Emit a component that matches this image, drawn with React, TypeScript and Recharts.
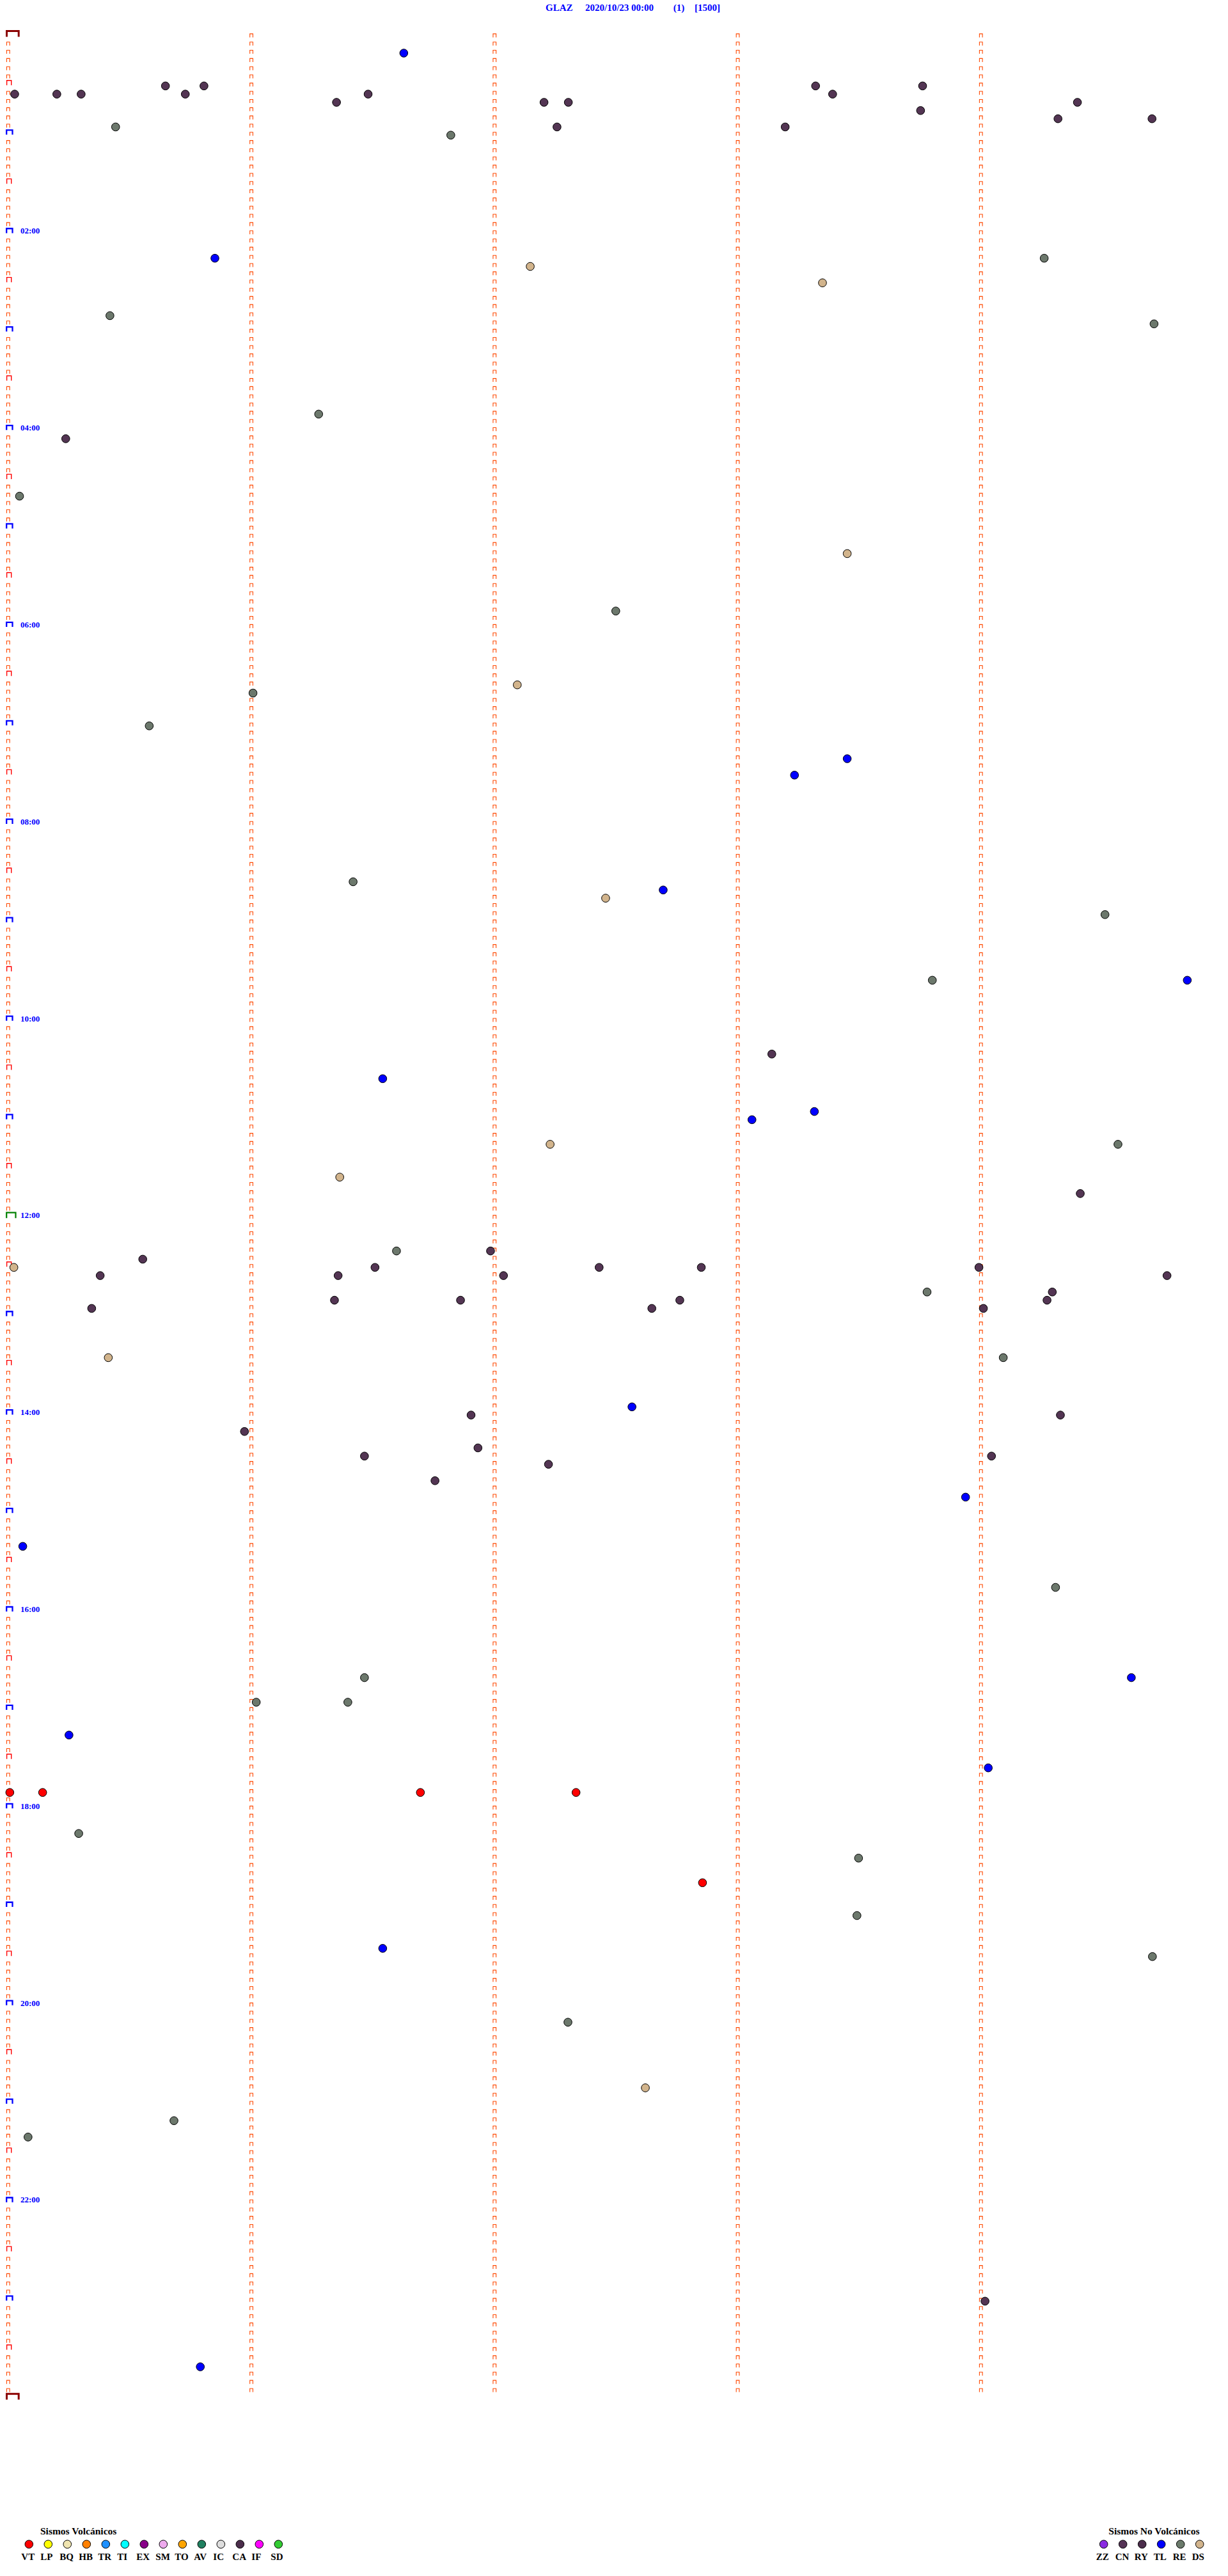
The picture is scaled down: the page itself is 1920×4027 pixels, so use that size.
import React from 'react';
import { ScatterChart, Scatter, XAxis, YAxis } from 'recharts';

// ---- data ----
// x: seconds within the 5-minute row (0..300), columns every minute
// y: minute of the day (0..1440)
const COLUMN_SECONDS = [0, 60, 120, 180, 240];
const DAY_MINUTES = 1440;
const TICK_STEP = 5;
const HOUR_LABELS = ['02:00', '04:00', '06:00', '08:00', '10:00', '12:00', '14:00', '16:00', '18:00', '20:00', '22:00'];

type Ev = [number, number];

const CA_EVENTS: Ev[] = [
  [1.6, 38.5], [12.0, 38.5], [18.0, 38.5], [38.8, 33.5], [43.7, 38.5], [48.3, 33.5],
  [81.0, 43.5], [88.8, 38.5], [132.2, 43.5], [138.2, 43.5], [135.4, 58.5],
  [199.2, 33.5], [203.4, 38.5], [225.6, 33.5], [225.1, 48.5], [191.7, 58.5],
  [263.8, 43.5], [259.0, 53.5], [282.2, 53.5],
  [14.2, 248.5], [188.4, 623.5], [264.5, 708.5],
  [33.2, 748.5], [22.7, 758.5], [20.6, 778.5], [119.0, 743.5], [90.5, 753.5], [81.4, 758.5],
  [122.2, 758.5], [80.5, 773.5], [111.6, 773.5], [145.8, 753.5], [171.0, 753.5], [165.7, 773.5],
  [158.8, 778.5], [239.5, 753.5], [240.6, 778.5], [257.6, 768.5], [256.3, 773.5], [285.9, 758.5],
  [114.2, 843.5], [259.6, 843.5], [58.3, 853.5], [87.9, 868.5], [115.9, 863.5], [133.3, 873.5],
  [242.6, 868.5], [105.3, 883.5], [241.0, 1383.5],
];

const RE_EVENTS: Ev[] = [
  [26.5, 58.5], [109.2, 63.5], [255.6, 138.5], [25.1, 173.5], [282.7, 178.5], [76.6, 233.5],
  [2.8, 283.5], [149.9, 353.5], [60.4, 403.5], [34.8, 423.5], [85.1, 518.5], [270.6, 538.5],
  [228.0, 578.5], [273.8, 678.5], [95.8, 743.5], [226.7, 768.5], [245.5, 808.5], [258.4, 948.5],
  [87.9, 1003.5], [61.2, 1018.5], [83.8, 1018.5], [17.4, 1098.5], [209.8, 1113.5], [209.4, 1148.5],
  [282.3, 1173.5], [138.1, 1213.5], [4.9, 1283.5], [40.9, 1273.5],
];

const TL_EVENTS: Ev[] = [
  [97.6, 13.5], [51.0, 138.5], [207.0, 443.5], [194.0, 453.5], [161.6, 523.5], [290.9, 578.5],
  [92.4, 638.5], [183.5, 663.5], [198.9, 658.5], [153.9, 838.5], [236.2, 893.5], [3.6, 923.5],
  [277.1, 1003.5], [15.0, 1038.5], [241.8, 1058.5], [92.4, 1168.5], [47.4, 1423.5],
];

const DS_EVENTS: Ev[] = [
  [128.8, 143.5], [200.9, 153.5], [207.0, 318.5], [125.6, 398.5], [147.4, 528.5],
  [133.7, 678.5], [81.8, 698.5], [1.4, 753.5], [24.7, 808.5], [157.2, 1253.5],
];

const VT_EVENTS: Ev[] = [
  [0.4, 1073.5], [8.5, 1073.5], [101.7, 1073.5], [140.1, 1073.5], [171.3, 1128.5],
];

const VOLC_LEGEND = [
  { code: 'VT', color: '#ff0000' }, { code: 'LP', color: '#ffff00' }, { code: 'BQ', color: '#efe4b0' },
  { code: 'HB', color: '#ff8000' }, { code: 'TR', color: '#1e90ff' }, { code: 'TI', color: '#00ffff' },
  { code: 'EX', color: '#880088' }, { code: 'SM', color: '#eeaaee' }, { code: 'TO', color: '#ffa500' },
  { code: 'AV', color: '#208060' }, { code: 'IC', color: '#dddddd' }, { code: 'CA', color: '#4b2d4b' },
  { code: 'IF', color: '#ff00ff' }, { code: 'SD', color: '#33cc33' },
];
const NOVOLC_LEGEND = [
  { code: 'ZZ', color: '#8a2be2' }, { code: 'CN', color: '#553355' }, { code: 'RY', color: '#4b2d4b' },
  { code: 'TL', color: '#0000ff' }, { code: 'RE', color: '#6b7a6b' }, { code: 'DS', color: '#d2b48c' },
];

const COLORS = { CA: '#533553', RE: '#6c786c', TL: '#0000ff', DS: '#d2b48c', VT: '#ff0000' };

// ---- layout ----
const W = 1920;
const H = 4027;
const MARGIN = { top: 48.4, right: 6, bottom: 284.7, left: 12.8 };
const FONT = "'Liberation Serif', 'Times New Roman', serif";

const toPts = (arr: Ev[]) => arr.map(([s, m]) => ({ s, m }));

const tickPoints: any[] = [];
COLUMN_SECONDS.forEach((s, ci) => {
  for (let m = 0; m <= DAY_MINUTES; m += TICK_STEP) {
    let kind = 'small';
    let label: string | null = null;
    if (ci === 0) {
      if (m === 0 || m === DAY_MINUTES) kind = 'day';
      else if (m === 720) kind = 'noon';
      else if (m % 60 === 0) kind = 'hour';
      else if (m % 30 === 0) kind = 'half';
      if (m % 120 === 0 && m > 0 && m < DAY_MINUTES) label = HOUR_LABELS[m / 120 - 1];
    } else if (m === DAY_MINUTES) {
      continue;
    }
    tickPoints.push({ s, m, kind, label });
  }
});

const TickShape = (props: any) => {
  const { cx, cy, payload } = props;
  const k = payload.kind;
  let el: any;
  if (k === 'small') {
    el = <path d={`M${cx - 2.35},${cy + 10} V${cy + 4.5} H${cx + 2.35} V${cy + 10}`} stroke="#ff4800" strokeWidth={1.1} fill="none" />;
  } else if (k === 'half') {
    el = <path d={`M${cx - 2.2},${cy + 8} V${cy + 0.4} H${cx + 4.9} V${cy + 8}`} stroke="#ff0000" strokeWidth={1.4} fill="none" />;
  } else if (k === 'hour') {
    el = <path d={`M${cx - 2.6},${cy + 8.2} V${cy + 1} H${cx + 6.7} V${cy + 8.2}`} stroke="#0000ff" strokeWidth={2.3} fill="none" />;
  } else if (k === 'noon') {
    el = <path d={`M${cx - 2.6},${cy + 9} V${cy + 0.3} H${cx + 11.7} V${cy + 9}`} stroke="#008000" strokeWidth={2.2} fill="none" />;
  } else {
    el = <path d={`M${cx - 2.3},${cy + 9} V${cy + 0} H${cx + 16.4} V${cy + 9}`} stroke="#8b0000" strokeWidth={3} fill="none" />;
  }
  return (
    <g>
      {el}
      {payload.label ? (
        <text x={cx + 19.2} y={cy + 9} fontFamily={FONT} fontWeight="bold" fontSize={13} fill="#0000ff">
          {payload.label}
        </text>
      ) : null}
    </g>
  );
};

const dotShape = (color: string) => (props: any) => (
  <circle cx={props.cx} cy={props.cy} r={6.3} fill={color} stroke="#000" strokeWidth={1} />
);

const Legend = ({ x0, title, titleX, items }: { x0: number; title: string; titleX: number; items: { code: string; color: string }[] }) => (
  <g>
    <text x={titleX} y={3962} fontFamily={FONT} fontWeight="bold" fontSize={15.5} fill="#000">{title}</text>
    {items.map((it, i) => (
      <g key={it.code}>
        <circle cx={x0 + 30 * i} cy={3977.3} r={6.3} fill={it.color} stroke="#000" strokeWidth={1} />
        <text x={x0 + 30 * i - 12} y={4001.5} fontFamily={FONT} fontWeight="bold" fontSize={15} fill="#000">{it.code}</text>
      </g>
    ))}
  </g>
);

export default function App() {
  return (
    <div style={{ position: 'absolute', left: 0, top: 0, width: W, height: H, background: '#fff', overflow: 'hidden' }}>
      <ScatterChart width={W} height={H} margin={MARGIN}>
        <XAxis type="number" dataKey="s" domain={[0, 300]} hide />
        <YAxis type="number" dataKey="m" domain={[0, DAY_MINUTES]} reversed hide />
        <Scatter data={tickPoints} shape={TickShape} isAnimationActive={false} />
        <Scatter data={toPts(RE_EVENTS)} shape={dotShape(COLORS.RE)} isAnimationActive={false} />
        <Scatter data={toPts(CA_EVENTS)} shape={dotShape(COLORS.CA)} isAnimationActive={false} />
        <Scatter data={toPts(DS_EVENTS)} shape={dotShape(COLORS.DS)} isAnimationActive={false} />
        <Scatter data={toPts(TL_EVENTS)} shape={dotShape(COLORS.TL)} isAnimationActive={false} />
        <Scatter data={toPts(VT_EVENTS)} shape={dotShape(COLORS.VT)} isAnimationActive={false} />
      </ScatterChart>
      <svg width={W} height={H} style={{ position: 'absolute', left: 0, top: 0, pointerEvents: 'none' }}>
        <g fontFamily={FONT} fontWeight="bold" fontSize={15} fill="#0000ff">
          <text x={853} y={17.3}>GLAZ</text>
          <text x={915} y={17.3}>2020/10/23 00:00</text>
          <text x={1052.7} y={17.3}>(1)</text>
          <text x={1086} y={17.3}>[1500]</text>
        </g>
        <Legend x0={45.3} title="Sismos Volcánicos" titleX={63} items={VOLC_LEGEND} />
        <Legend x0={1725.7} title="Sismos No Volcánicos" titleX={1733.3} items={NOVOLC_LEGEND} />
      </svg>
    </div>
  );
}
